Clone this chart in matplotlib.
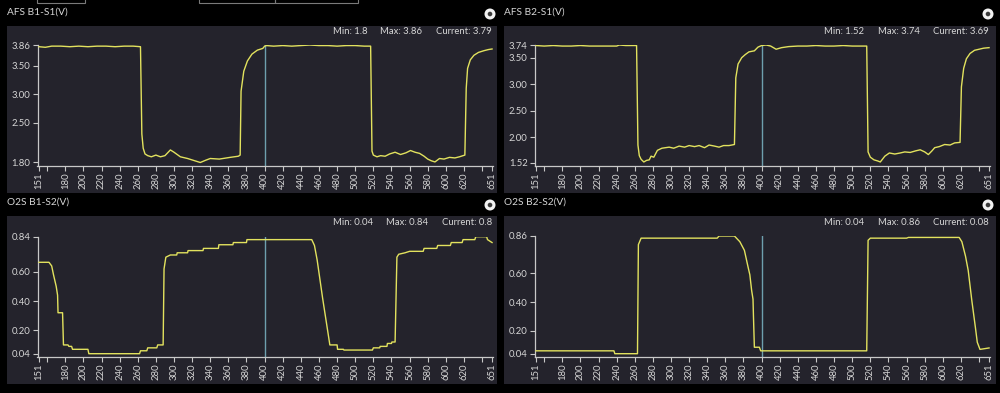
import matplotlib
matplotlib.use("Agg")
import matplotlib.pyplot as plt
from matplotlib.patches import Rectangle, Circle

# ---------------- data ----------------
titles = ["AFS B1-S1(V)", "AFS B2-S1(V)", "O2S B1-S2(V)", "O2S B2-S2(V)"]
stats_min = ["1.8", "1.52", "0.04", "0.04"]
stats_max = ["3.86", "3.74", "0.84", "0.86"]
stats_cur = ["3.79", "3.69", "0.8", "0.08"]

x_ticks = [151, 160, 180, 200, 220, 240, 260, 280, 300, 320, 340, 360, 380, 400,
           420, 440, 460, 480, 500, 520, 540, 560, 580, 600, 620, 640, 651]
x_tick_labels = ["151", "", "180", "200", "220", "240", "260", "280", "300", "320",
                 "340", "360", "380", "400", "420", "440", "460", "480", "500", "520",
                 "540", "560", "580", "600", "620", "", "651"]
cursor_x = 400

yt1 = [1.80, 2.50, 3.00, 3.50, 3.86]
yt2 = [1.52, 2.00, 2.50, 3.00, 3.50, 3.74]
yt3 = [0.04, 0.20, 0.40, 0.60, 0.84]
yt4 = [0.04, 0.20, 0.40, 0.60, 0.86]

x1 = [151, 158, 165, 175, 185, 195, 205, 215, 225, 235, 245, 255, 263, 264.5, 266, 268,
      271, 275, 280, 285, 290, 296, 300, 307, 315, 323, 329, 335, 340, 350, 362, 371,
      373, 374, 377, 381, 386, 392, 398, 400, 402, 410, 420, 430, 440, 450, 460, 470,
      480, 490, 500, 510, 517, 518.5, 520, 524, 528, 533, 538, 544, 550, 556, 561, 566,
      571, 576, 580, 584, 588, 593, 598, 604, 610, 615, 621, 622.5, 624, 627, 631, 636,
      642, 647, 651]
y1 = [3.83, 3.82, 3.84, 3.84, 3.83, 3.84, 3.83, 3.84, 3.84, 3.83, 3.84, 3.84, 3.83, 2.30,
      2.05, 1.95, 1.92, 1.90, 1.93, 1.90, 1.92, 2.02, 1.98, 1.90, 1.87, 1.83, 1.80, 1.84,
      1.87, 1.86, 1.89, 1.91, 1.93, 3.05, 3.40, 3.58, 3.70, 3.77, 3.80, 3.84, 3.85, 3.84,
      3.85, 3.84, 3.85, 3.86, 3.85, 3.85, 3.84, 3.85, 3.85, 3.84, 3.84, 2.00, 1.93, 1.90,
      1.92, 1.91, 1.95, 1.98, 1.94, 1.97, 2.01, 1.98, 1.96, 1.91, 1.86, 1.83, 1.81, 1.87,
      1.86, 1.89, 1.88, 1.90, 1.93, 3.10, 3.45, 3.60, 3.68, 3.73, 3.76, 3.78, 3.79]

x2 = [151, 160, 170, 180, 190, 200, 210, 220, 230, 240, 243, 250, 262, 263.5, 265, 267,
      270, 273, 276, 278, 281, 285, 290, 298, 303, 309, 315, 320, 326, 331, 337, 342,
      348, 353, 358, 364, 370, 371.5, 374, 378, 382, 386, 392, 396, 400, 405, 410, 416,
      422, 430, 440, 450, 460, 470, 480, 490, 500, 510, 516, 517.5, 520, 524, 528, 531,
      536, 541, 547, 553, 558, 564, 570, 575, 580, 584, 588, 591, 596, 602, 608, 613,
      619, 620.5, 623, 626, 630, 635, 640, 645, 651]
y2 = [3.73, 3.72, 3.73, 3.72, 3.72, 3.73, 3.72, 3.72, 3.72, 3.72, 3.74, 3.73, 3.73, 1.85,
      1.65, 1.58, 1.53, 1.56, 1.57, 1.64, 1.62, 1.75, 1.79, 1.81, 1.79, 1.83, 1.81, 1.84,
      1.82, 1.84, 1.80, 1.85, 1.83, 1.81, 1.84, 1.84, 1.86, 3.12, 3.38, 3.50, 3.56, 3.61,
      3.63, 3.70, 3.73, 3.74, 3.72, 3.66, 3.69, 3.71, 3.72, 3.72, 3.73, 3.72, 3.72, 3.73,
      3.72, 3.72, 3.72, 1.72, 1.62, 1.57, 1.55, 1.53, 1.64, 1.70, 1.68, 1.70, 1.72, 1.71,
      1.74, 1.76, 1.72, 1.67, 1.74, 1.80, 1.82, 1.86, 1.85, 1.89, 1.90, 2.95, 3.30, 3.48,
      3.58, 3.64, 3.66, 3.68, 3.69]

x3 = [151, 162, 165, 167, 170, 171.5, 172, 177, 178, 183, 184, 187, 188, 205, 206, 262,
      263, 270, 271, 281, 282, 288, 289, 291, 296, 303, 303.5, 315, 315.5, 332, 332.5,
      349, 349.5, 365, 365.5, 380, 380.5, 452, 455, 458, 461, 464, 467, 470, 472, 480,
      480.5, 487, 487.5, 519, 520, 527, 527.5, 535, 535.5, 540, 540.5, 544, 546, 548,
      555, 560, 575, 576, 590, 591, 605, 606, 618, 619, 632, 633, 645, 646, 651]
y3 = [0.665, 0.665, 0.64, 0.58, 0.50, 0.44, 0.32, 0.32, 0.10, 0.10, 0.09, 0.09, 0.07, 0.07,
      0.04, 0.04, 0.06, 0.06, 0.08, 0.08, 0.10, 0.10, 0.62, 0.70, 0.715, 0.715, 0.73,
      0.73, 0.745, 0.745, 0.76, 0.76, 0.785, 0.785, 0.80, 0.80, 0.82, 0.82, 0.78, 0.68,
      0.55, 0.42, 0.30, 0.18, 0.10, 0.10, 0.07, 0.07, 0.065, 0.065, 0.08, 0.08, 0.09,
      0.09, 0.11, 0.11, 0.12, 0.12, 0.70, 0.72, 0.73, 0.74, 0.74, 0.76, 0.76, 0.78, 0.78,
      0.80, 0.80, 0.82, 0.82, 0.84, 0.84, 0.82, 0.80]

x4 = [151, 237, 238, 263, 264, 267, 351, 353, 370, 373, 376, 381, 385, 387, 389, 390.5,
      391, 392, 397.5, 399, 516, 517.5, 520, 560, 562, 618, 621, 625, 628, 632, 636, 638,
      641, 651]
y4 = [0.06, 0.06, 0.04, 0.04, 0.80, 0.845, 0.845, 0.86, 0.86, 0.84, 0.82, 0.76, 0.645,
      0.59, 0.48, 0.42, 0.30, 0.085, 0.085, 0.06, 0.06, 0.83, 0.845, 0.845, 0.85, 0.85,
      0.82, 0.72, 0.62, 0.41, 0.22, 0.12, 0.07, 0.08]

series = [(x1, y1, yt1), (x2, y2, yt2), (x3, y3, yt3), (x4, y4, yt4)]

# ---------------- style ----------------
FONT = ["Lato", "DejaVu Sans"]
plt.rcParams["font.family"] = FONT
W, H = 1000, 393
BG = "#000000"
PANEL = "#24232c"
LINE = "#e2e25e"
CURSOR = "#6e9fae"
TXT = "#d6d6d6"
SPINE = "#c8c8c8"

fig = plt.figure(figsize=(W / 100, H / 100), dpi=100, facecolor=BG)
bg = fig.add_axes([0, 0, 1, 1], zorder=0)
bg.set_xlim(0, W)
bg.set_ylim(H, 0)
bg.axis("off")

# top UI remnants
for (xa, xb) in [(37, 85), (199, 275), (275, 358)]:
    bg.add_patch(Rectangle((xa, -5), xb - xa, 7.5, fill=False, edgecolor="#7a7a7a", lw=0.8))

panels = [
    # bg rect (x0, y0, x1, y1), title x, title y, axes px (left, right, top, bottom), stat xs, stat y, icon
    dict(rect=(7, 26, 497, 193), tx=7, ty=12, ax=(37.5, 492.5, 45, 165.5),
         sx=(333, 380, 436), sy=32, icon=(490, 14)),
    dict(rect=(504, 26, 996, 193), tx=504, ty=12, ax=(534.5, 989.5, 45, 165.5),
         sx=(824, 877.5, 933), sy=32, icon=(988, 14)),
    dict(rect=(7, 216, 497, 384), tx=7, ty=202, ax=(37.5, 492.5, 236.7, 356.7),
         sx=(333, 386, 441.5), sy=222.7, icon=(490, 205)),
    dict(rect=(504, 216, 996, 384), tx=504, ty=202, ax=(534.5, 989.5, 236, 356.7),
         sx=(824, 877.5, 933), sy=222.7, icon=(988, 205)),
]

for i, p in enumerate(panels):
    x0, y0, x1_, y1_ = p["rect"]
    bg.add_patch(Rectangle((x0, y0), x1_ - x0, y1_ - y0, facecolor=PANEL, edgecolor="none"))
    bg.text(p["tx"], p["ty"], titles[i], color=TXT, fontsize=7.3, va="center", ha="left")
    sx = p["sx"]
    bg.text(sx[0], p["sy"], "Min: " + stats_min[i], color=TXT, fontsize=6.8, va="center")
    bg.text(sx[1], p["sy"], "Max: " + stats_max[i], color=TXT, fontsize=6.8, va="center")
    bg.text(sx[2], p["sy"], "Current: " + stats_cur[i], color=TXT, fontsize=6.8, va="center")
    cx, cy = p["icon"]
    bg.add_patch(Circle((cx, cy), 5.5, facecolor="#f2f2f2", edgecolor="none"))
    bg.add_patch(Circle((cx, cy), 2.3, facecolor="#3a3a3a", edgecolor="none"))

    xs, ys, yt = series[i]
    l, r, t, b = p["ax"]
    ax = fig.add_axes([l / W, 1 - b / H, (r - l) / W, (b - t) / H], zorder=1)
    ax.set_facecolor("none")
    ax.plot(xs, ys, color=LINE, lw=1.0, zorder=3)
    ax.axvline(cursor_x, color=CURSOR, lw=1.0, zorder=2)
    # x range: 151 at label position; left spine slightly before
    x_lo = 151 - 1.5 / ((r - l) / 502.0)
    ax.set_xlim(x_lo, 651.5)
    yspan = yt[-1] - yt[0]
    pxv = (b - t - 3) / yspan  # pixels per unit
    ax.set_ylim(yt[0] - 3 / pxv, yt[-1])
    ax.set_yticks(yt)
    ax.set_yticklabels(["%.2f" % v for v in yt])
    ax.set_xticks(x_ticks)
    ax.set_xticklabels(x_tick_labels, rotation=90)
    for s in ["top", "right"]:
        ax.spines[s].set_visible(False)
    for s in ["left", "bottom"]:
        ax.spines[s].set_color(SPINE)
        ax.spines[s].set_linewidth(0.9)
    ax.tick_params(axis="both", colors=SPINE, labelcolor=TXT, labelsize=6.8,
                   length=3.5, width=0.8, pad=1.5)

fig.savefig("out.png", dpi=100, facecolor=BG)
